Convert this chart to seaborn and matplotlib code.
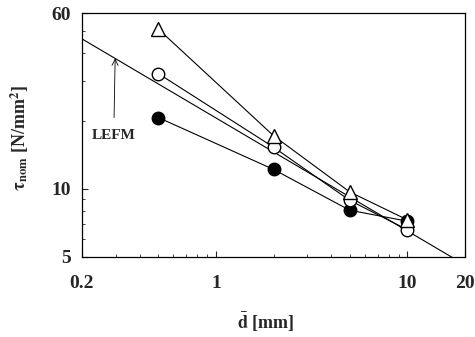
import numpy as np
import pandas as pd
import matplotlib
matplotlib.use("Agg")
import matplotlib.pyplot as plt
import seaborn as sns
from matplotlib.ticker import FixedLocator, FixedFormatter, NullFormatter, LogLocator

# values (log-log plot)
d_vals = [0.5, 2, 5, 10]
tau_triangle = [51.0, 17.2, 9.7, 7.3]
tau_circle = [32.4, 15.3, 8.9, 6.6]
tau_filled = [20.7, 12.2, 8.05, 7.2]

# LEFM reference line (slope -1/2), endpoints
lefm_d = [0.2, 20]
lefm_tau = [46.1, 4.61]

x_ticks = [0.2, 1, 10, 20]
y_ticks = [5, 10, 60]

sns.set_theme(style="ticks")
plt.rcParams['font.family'] = ['Liberation Serif', 'DejaVu Serif']
plt.rcParams['mathtext.fontset'] = 'stix'

fig = plt.figure(figsize=(4.75, 3.37), dpi=100)
ax = fig.add_axes([0.1726, 0.2374, 0.8064, 0.724])

line_kw = dict(color='black', linewidth=0.8, estimator=None, sort=False, ax=ax)

sns.lineplot(x=lefm_d, y=lefm_tau, **line_kw)
sns.lineplot(x=d_vals, y=tau_filled, marker='o', markersize=9,
             markerfacecolor='black', markeredgecolor='black', markeredgewidth=1, **line_kw)
sns.lineplot(x=d_vals, y=tau_circle, marker='o', markersize=9,
             markerfacecolor='white', markeredgecolor='black', markeredgewidth=1, **line_kw)
sns.lineplot(x=d_vals, y=tau_triangle, marker='^', markersize=10,
             markerfacecolor='white', markeredgecolor='black', markeredgewidth=1, **line_kw)

ax.set_xscale('log')
ax.set_yscale('log')
ax.set_xlim(0.2, 20)
ax.set_ylim(5, 60)

ax.xaxis.set_major_locator(FixedLocator(x_ticks))
ax.xaxis.set_major_formatter(FixedFormatter([str(v) for v in x_ticks]))
ax.yaxis.set_major_locator(FixedLocator(y_ticks))
ax.yaxis.set_major_formatter(FixedFormatter([str(v) for v in y_ticks]))
ax.xaxis.set_minor_locator(LogLocator(base=10, subs=np.arange(2, 10)))
ax.yaxis.set_minor_locator(LogLocator(base=10, subs=np.arange(2, 10)))
ax.xaxis.set_minor_formatter(NullFormatter())
ax.yaxis.set_minor_formatter(NullFormatter())

ax.tick_params(axis='both', which='major', direction='in', length=4, width=0.8,
               labelsize=14)
ax.tick_params(axis='both', which='minor', direction='in', length=2.5, width=0.6)
ax.tick_params(axis='x', which='major', pad=13)
ax.tick_params(axis='y', which='major', pad=8)
for lab in ax.get_xticklabels() + ax.get_yticklabels():
    lab.set_fontweight('bold')

for sp in ax.spines.values():
    sp.set_visible(True)
    sp.set_linewidth(0.9)
    sp.set_color('black')

ax.set_xlabel(r'$\bar{\mathbf{d}}$ [mm]', fontsize=13, fontweight='bold', va='center')
ax.xaxis.set_label_coords(0.48, -0.27)
ax.set_ylabel(r'$\mathbf{\tau}_{\mathbf{nom}}$ [N/mm$^\mathbf{2}$]', fontsize=13,
              fontweight='bold', va='center')
ax.yaxis.set_label_coords(-0.162, 0.49)

ax.annotate('LEFM', xy=(0.298, 37.8), xytext=(0.293, 17.2),
            ha='center', va='center', fontsize=11, fontweight='bold',
            arrowprops=dict(arrowstyle='->', color='black', lw=0.6,
                            shrinkA=6, shrinkB=0))

fig.savefig('out.png', dpi=100)
